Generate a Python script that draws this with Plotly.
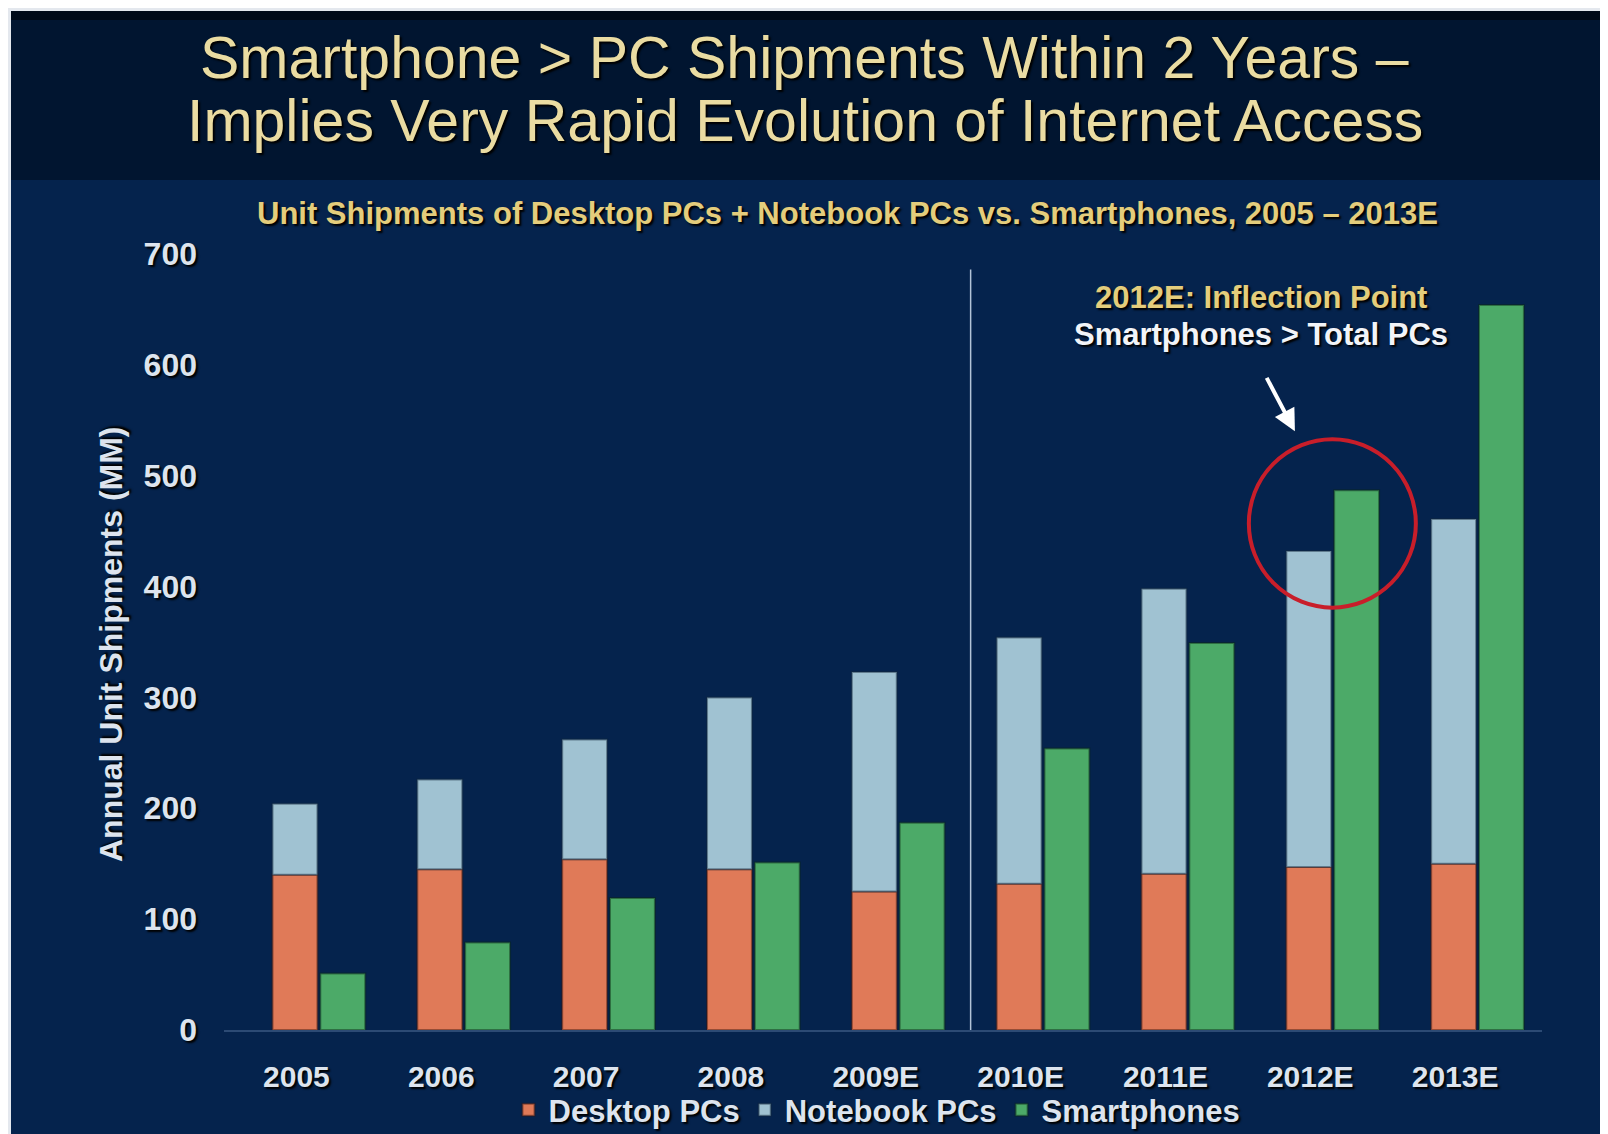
import plotly.graph_objects as go

# ---- data ----
years = ["2005", "2006", "2007", "2008", "2009E", "2010E", "2011E", "2012E", "2013E"]
desktop_pcs = [140, 145, 154, 145, 125, 132, 141, 147, 150]
notebook_pcs = [64, 81, 108, 155, 198, 222, 257, 285, 311]
smartphones = [51, 79, 119, 151, 187, 254, 349, 487, 654]
y_ticks = [0, 100, 200, 300, 400, 500, 600, 700]

# ---- layout geometry ----
# The page body adds an 8px margin, so figure coordinates = page coordinates - 8.
OFF = 8
W, H = 1608, 1134
ML = 224 - OFF
MT = 254 - OFF
MR = W - (1542 - OFF)
MB = H - (1030 - OFF)
PW, PH = W - ML - MR, H - MT - MB


def px_x(px):  # page pixel -> paper x
    return (px - OFF - ML) / PW


def px_y(py):  # page pixel -> paper y
    return (H - MB - (py - OFF)) / PH


FONT = "Liberation Sans, Arial, sans-serif"
SHADOW = "2px 2px 2px #000000"
C_DESK = "#e07a58"
C_NOTE = "#a0c2d2"
C_SMART = "#4caa68"
BG = "#05234d"
BAND = "#011530"
TICK = "#dde4ee"

PC_OFF, SP_OFF, BW = -0.165, 0.165, 0.31

fig = go.Figure()
fig.add_trace(go.Bar(
    name="Desktop PCs", x=years, y=desktop_pcs, offset=PC_OFF, width=BW,
    marker=dict(color=C_DESK, line=dict(color="rgba(60,20,10,0.45)", width=2)),
))
fig.add_trace(go.Bar(
    name="Notebook PCs", x=years, y=notebook_pcs, base=desktop_pcs, offset=PC_OFF, width=BW,
    marker=dict(color=C_NOTE, line=dict(color="rgba(20,40,60,0.45)", width=2)),
))
fig.add_trace(go.Bar(
    name="Smartphones", x=years, y=smartphones, offset=SP_OFF, width=BW,
    marker=dict(color=C_SMART, line=dict(color="rgba(10,40,20,0.45)", width=2)),
))

# divider between actual and estimated years (midpoint of the gap between 2009E and 2010E)
div_x = 4 + (SP_OFF + BW + (1 + PC_OFF)) / 2
shapes = [
    # light border strips (top / left)
    dict(type="rect", xref="paper", yref="paper", x0=px_x(0), x1=px_x(W + OFF), y0=px_y(11), y1=px_y(0),
         fillcolor="#e4e8ee", line=dict(width=0), layer="below"),
    dict(type="rect", xref="paper", yref="paper", x0=px_x(0), x1=px_x(11), y0=px_y(H + OFF), y1=px_y(0),
         fillcolor="#e4e8ee", line=dict(width=0), layer="below"),
    # dark title band
    dict(type="rect", xref="paper", yref="paper", x0=px_x(11), x1=px_x(W + OFF), y0=px_y(180), y1=px_y(11),
         fillcolor=BAND, line=dict(width=0), layer="below"),
    dict(type="rect", xref="paper", yref="paper", x0=px_x(11), x1=px_x(W + OFF), y0=px_y(20), y1=px_y(11),
         fillcolor="#000a18", line=dict(width=0), layer="below"),
    # divider
    dict(type="line", xref="x", yref="y", x0=div_x, x1=div_x, y0=0, y1=686,
         line=dict(color="#b4c4d8", width=1.5)),
    # red circle around 2012E
    dict(type="circle", xref="x", yref="y", x0=6.576, x1=7.729, y0=381, y1=533,
         line=dict(color="#c81e2a", width=4)),
]

annotations = [
    dict(text="Smartphone > PC Shipments Within 2 Years –", xref="paper", yref="paper",
         x=px_x(804), y=px_y(58), showarrow=False, xanchor="center", yanchor="middle",
         font=dict(family=FONT, size=59, color="#eadca2", shadow=SHADOW)),
    dict(text="Implies Very Rapid Evolution of Internet Access", xref="paper", yref="paper",
         x=px_x(805), y=px_y(121), showarrow=False, xanchor="center", yanchor="middle",
         font=dict(family=FONT, size=59, color="#eadca2", shadow=SHADOW)),
    dict(text="<b>Unit Shipments of Desktop PCs + Notebook PCs vs. Smartphones, 2005 – 2013E</b>",
         xref="paper", yref="paper", x=px_x(847), y=px_y(214), showarrow=False,
         xanchor="center", yanchor="middle",
         font=dict(family=FONT, size=31, color="#e4cd7c", shadow=SHADOW)),
    dict(text="<b>Annual Unit Shipments (MM)</b>", xref="paper", yref="paper",
         x=px_x(111), y=px_y(644), showarrow=False, textangle=-90,
         xanchor="center", yanchor="middle",
         font=dict(family=FONT, size=32, color=TICK, shadow=SHADOW)),
    dict(text="<b>2012E: Inflection Point</b>", xref="x", yref="y", x=6.66, y=661,
         showarrow=False, xanchor="center", yanchor="middle",
         font=dict(family=FONT, size=31, color="#e4cd7c", shadow=SHADOW)),
    dict(text="<b>Smartphones > Total PCs</b>", xref="x", yref="y", x=6.66, y=627,
         showarrow=False, xanchor="center", yanchor="middle",
         font=dict(family=FONT, size=31, color="#f2f4f8", shadow=SHADOW)),
    dict(text="", xref="x", yref="y", x=6.894, y=540, ax=-29, ay=-55,
         showarrow=True, arrowhead=2, arrowsize=1.1, arrowwidth=4, arrowcolor="#ffffff"),
]

fig.update_layout(
    width=W, height=H, autosize=False,
    margin=dict(l=ML, r=MR, t=MT, b=MB, pad=0, autoexpand=False),
    paper_bgcolor=BG, plot_bgcolor=BG,
    barmode="overlay",
    font=dict(family=FONT, color=TICK),
    shapes=shapes, annotations=annotations,
    showlegend=True,
    legend=dict(orientation="h", xref="container", yref="container",
                x=(877 - OFF) / W, y=(H - (1110 - OFF)) / H,
                xanchor="center", yanchor="middle", bgcolor="rgba(0,0,0,0)",
                font=dict(family=FONT, size=31, color=TICK, weight="bold", shadow=SHADOW),
                itemwidth=30, tracegroupgap=0),
    xaxis=dict(type="category", categoryorder="array", categoryarray=years,
               range=[-0.5, 8.6], showgrid=False, zeroline=False, automargin=False,
               showline=True, linecolor="#2c4a74", linewidth=2,
               ticks="", ticklabelstandoff=19,
               tickfont=dict(family=FONT, size=30, color=TICK, weight="bold", shadow=SHADOW)),
    yaxis=dict(range=[0, 700], tickvals=y_ticks, showgrid=False, zeroline=False,
               showline=False, ticks="", ticklabelstandoff=26, automargin=False,
               tickfont=dict(family=FONT, size=32, color=TICK, weight="bold", shadow=SHADOW)),
)

fig.write_html("out.html")
